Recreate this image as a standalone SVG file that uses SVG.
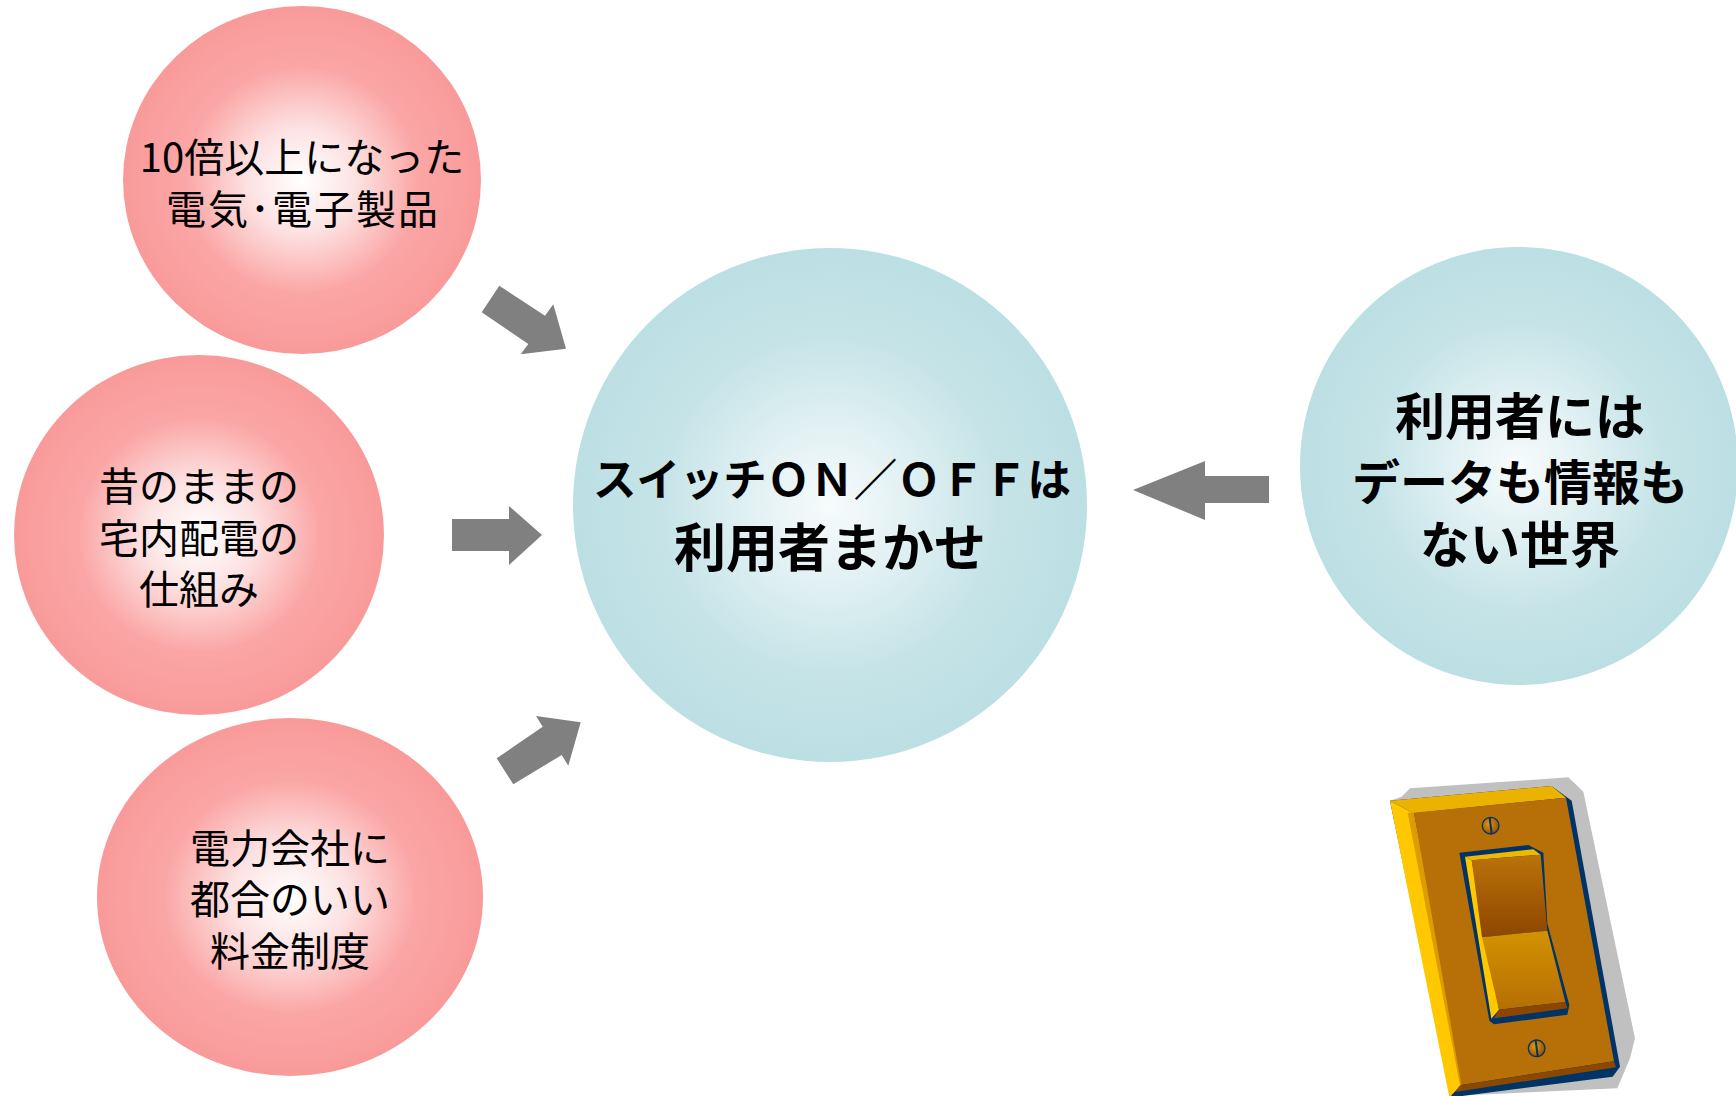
<svg xmlns="http://www.w3.org/2000/svg" width="1736" height="1096" viewBox="0 0 1736 1096">
  <defs>
    <radialGradient id="pinkBall" cx="0.5" cy="0.5" r="0.5">
      <stop offset="0" stop-color="#ffffff"/>
      <stop offset="0.3" stop-color="#fde2e2"/>
      <stop offset="0.65" stop-color="#fba6a6"/>
      <stop offset="1" stop-color="#f99a9a"/>
    </radialGradient>
    <radialGradient id="blueBall" cx="0.5" cy="0.5" r="0.5">
      <stop offset="0" stop-color="#f7fbfc"/>
      <stop offset="0.3" stop-color="#e2f1f3"/>
      <stop offset="0.65" stop-color="#c6e4e8"/>
      <stop offset="1" stop-color="#bcdfe4"/>
    </radialGradient>
    <linearGradient id="paddleTop" x1="0" y1="0" x2="0" y2="1">
      <stop offset="0" stop-color="#bb730a"/>
      <stop offset="1" stop-color="#8d4600"/>
    </linearGradient>
    <linearGradient id="paddleBottom" x1="0" y1="0" x2="0" y2="1">
      <stop offset="0" stop-color="#d39200"/>
      <stop offset="1" stop-color="#b66e05"/>
    </linearGradient>
    <radialGradient id="screwHead" cx="0.4" cy="0.4" r="0.6">
      <stop offset="0" stop-color="#e09a10"/>
      <stop offset="1" stop-color="#9a5200"/>
    </radialGradient>
    <style>
      .lbl { font-family: "Noto Sans CJK JP", "Noto Sans", sans-serif; fill: #000; text-anchor: middle; }
      .pink { font-size: 40px; }
      .blue { font-weight: bold; }
      .arrow { fill: #808080; }
      .navy { fill: #003366; }
      .screw { fill: url(#screwHead); stroke: #003366; stroke-width: 4; }
      .slot { stroke: #003366; stroke-width: 6; stroke-linecap: round; }
    </style>
  </defs>

  <rect width="1736" height="1096" fill="#ffffff"/>

  <!-- cause bubbles (pink) -->
  <g id="node-appliances">
    <ellipse cx="302" cy="180" rx="179" ry="174" fill="url(#pinkBall)"/>
    <text class="lbl pink" x="302" y="172">10倍以上になった</text>
    <text class="lbl pink" x="302" y="224" textLength="272" lengthAdjust="spacing">電気･電子製品</text>
  </g>
  <g id="node-wiring">
    <ellipse cx="199" cy="535" rx="185" ry="180" fill="url(#pinkBall)"/>
    <text class="lbl pink" x="199" y="501">昔のままの</text>
    <text class="lbl pink" x="199" y="553">宅内配電の</text>
    <text class="lbl pink" x="199" y="604">仕組み</text>
  </g>
  <g id="node-tariff">
    <ellipse cx="290" cy="897" rx="193" ry="179" fill="url(#pinkBall)"/>
    <text class="lbl pink" x="290" y="863">電力会社に</text>
    <text class="lbl pink" x="290" y="914">都合のいい</text>
    <text class="lbl pink" x="290" y="966">料金制度</text>
  </g>

  <!-- central bubble -->
  <g id="node-switch-user">
    <circle cx="830" cy="505" r="257" fill="url(#blueBall)"/>
    <text class="lbl blue" x="832" y="496" font-size="44" textLength="478" lengthAdjust="spacingAndGlyphs">スイッチＯＮ／ＯＦＦは</text>
    <text class="lbl blue" x="830" y="567" font-size="52">利用者まかせ</text>
  </g>

  <!-- right bubble -->
  <g id="node-no-data">
    <circle cx="1519" cy="466" r="219" fill="url(#blueBall)"/>
    <text class="lbl blue" x="1520" y="435" font-size="50">利用者には</text>
    <text class="lbl blue" x="1520" y="500" font-size="48">データも情報も</text>
    <text class="lbl blue" x="1520" y="563" font-size="50">ない世界</text>
  </g>

  <!-- block arrows -->
  <g id="connectors">
    <polygon class="arrow" points="499.3,285.7 545,315.7 553.3,304.3 566,348.7 520.7,354.3 528.3,344 481.7,312.3"/>
    <polygon class="arrow" points="452,519 509,519 509,506 542,535 509,565 509,551 452,551"/>
    <polygon class="arrow" points="496.7,758.3 542.7,726.7 536,716 580.7,722.3 568.3,765.7 561.7,755 513.3,784.3"/>
    <polygon class="arrow" points="1269,476 1205,476 1205,461 1133,490 1205,520 1205,503 1269,503"/>
  </g>

  <!-- wall switch illustration -->
  <g id="wall-switch" transform="translate(1370,760) scale(0.3333333)">
    <!-- drop shadow -->
    <polygon fill="#c0c0c0" points="95,110 120,85 595,52 640,95 795,835 780,895 742,985 240,1008 60,122"/>
    <!-- plate -->
    <polygon class="navy" points="545,78 605,122 750,920 728,950 245,1012 60,122"/>
    <polygon fill="#ebb300" points="60,122 545,78 588,113 130,160"/>
    <polygon fill="#ffc800" points="60,122 130,160 274,975 238,1012"/>
    <polygon fill="#dd9c00" points="113,158 132,158 287,962 270,976"/>
    <polygon fill="#b76f08" points="132,158 588,113 732,904 274,975"/>
    <polygon fill="#8a4800" points="270,976 732,904 738,922 255,996"/>
    <!-- screws -->
    <circle class="screw" cx="362" cy="197" r="25"/>
    <line class="slot" x1="359" y1="174" x2="365" y2="220"/>
    <circle class="screw" cx="500" cy="865" r="25"/>
    <line class="slot" x1="497" y1="842" x2="503" y2="888"/>
    <!-- rocker -->
    <polygon class="navy" points="268,278 475,255 520,278 532,490 598,735 592,764 372,793 358,782"/>
    <polygon fill="#f0b800" points="285,290 490,268 512,284 305,301"/>
    <polygon fill="#ffc800" points="285,290 305,301 387,749 364,776"/>
    <polygon fill="url(#paddleTop)" points="305,301 512,284 532,512 336,532"/>
    <polygon fill="url(#paddleBottom)" points="336,532 532,512 586,726 387,749"/>
    <polygon fill="#8d4600" points="387,749 586,726 592,745 372,775"/>
  </g>
</svg>
